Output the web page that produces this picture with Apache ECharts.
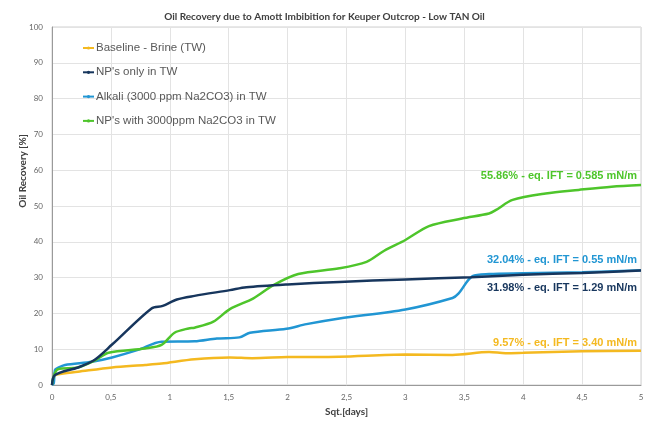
<!DOCTYPE html>
<html>
<head>
<meta charset="utf-8">
<script src="https://cdn.jsdelivr.net/npm/echarts@6/dist/echarts.min.js"></script>
<style>
  html, body { margin: 0; padding: 0; background: #ffffff; }
  #chart { width: 649px; height: 423px; }
</style>
</head>
<body>
<div id="chart"></div>
<script>
// Oil recovery (%) versus square root of time (days) for four imbibition fluids
const seriesNames = [
  "Baseline - Brine (TW)",
  "NP's only in TW",
  "Alkali (3000 ppm Na2CO3) in TW",
  "NP's with 3000ppm Na2CO3 in TW"
];

const baselineX = [0, 0.02, 0.05, 0.22, 0.51, 0.79, 0.93, 1.21, 1.51, 1.7, 2.0, 2.44, 3.0, 3.4, 3.71, 3.85, 4.0, 4.5, 5.0];
const baselineY = [0, 2.5, 3.0, 3.7, 4.9, 5.6, 6.0, 7.2, 7.7, 7.5, 7.8, 7.9, 8.5, 8.4, 9.2, 8.9, 9.0, 9.4, 9.57];

const npX = [0, 0.025, 0.22, 0.36, 0.51, 0.845, 0.94, 1.06, 1.21, 1.51, 1.65, 2.0, 2.44, 3.0, 3.56, 4.0, 4.5, 5.0];
const npY = [0, 2.8, 4.9, 7.0, 11.3, 21.4, 22.1, 23.9, 24.9, 26.5, 27.3, 28.1, 28.8, 29.5, 30.1, 30.8, 31.3, 31.98];

const alkaliX = [0, 0.015, 0.025, 0.05, 0.11, 0.34, 0.51, 0.73, 0.93, 1.21, 1.4, 1.59, 1.68, 1.99, 2.16, 2.44, 3.0, 3.4, 3.45, 3.57, 3.71, 4.0, 4.5, 5.0];
const alkaliY = [0, 0.5, 4.2, 4.8, 5.6, 6.5, 7.7, 9.8, 12.1, 12.2, 13.0, 13.3, 14.6, 15.7, 17.0, 18.6, 21.1, 24.3, 25.5, 30.4, 31.0, 31.2, 31.5, 32.04];

const npAlkaliX = [0, 0.01, 0.05, 0.22, 0.36, 0.48, 0.79, 0.93, 1.04, 1.16, 1.21, 1.37, 1.51, 1.71, 1.88, 2.09, 2.44, 2.67, 2.82, 3.0, 3.2, 3.48, 3.71, 3.77, 3.91, 4.19, 4.47, 4.75, 5.0];
const npAlkaliY = [0, 2.0, 4.4, 4.9, 6.8, 9.0, 10.2, 11.2, 14.6, 15.8, 16.0, 17.7, 21.2, 24.2, 27.9, 31.0, 32.6, 34.4, 37.5, 40.5, 44.4, 46.5, 47.9, 48.9, 51.7, 53.5, 54.5, 55.4, 55.86];

// Equilibrium IFT reported at the end of each curve (mN/m)
const eqIFT = ["3.40", "1.29", "0.55", "0.585"];

const colors = ["#F4B920", "#17365D", "#2196D3", "#4EC52B"];

const xTicks = { min: 0, max: 5, interval: 0.5 };
const yTicks = { min: 0, max: 100, interval: 10 };

// end-label shift per series, relative to the last point of its line
const endLabelOffset = [
  [-4, -8],
  [-4, 17],
  [-4, -10],
  [-4, -9]
];

const seriesXY = [[baselineX, baselineY], [npX, npY], [alkaliX, alkaliY], [npAlkaliX, npAlkaliY]];

const chart = echarts.init(document.getElementById("chart"), null, { renderer: "canvas" });

chart.setOption({
  animation: false,
  backgroundColor: "#ffffff",
  color: colors,
  title: {
    text: "Oil Recovery due to Amott Imbibition for Keuper Outcrop - Low TAN Oil",
    left: "center",
    top: 7,
    textStyle: {
      fontFamily: "Lato",
      fontWeight: "bold",
      fontSize: 10,
      color: "#404040"
    }
  },
  legend: {
    orient: "vertical",
    left: 82,
    top: 41,
    padding: 0,
    itemGap: 10.3,
    itemWidth: 11,
    itemHeight: 4,
    textStyle: { fontFamily: "Liberation Sans", fontSize: 11.5, color: "#595959", lineHeight: 14, padding: [0, 0, 0, -3] },
    data: seriesNames
  },
  grid: { left: 52, right: 8, top: 27, bottom: 38, show: true, borderColor: "#d0d0d0", borderWidth: 1 },
  xAxis: {
    type: "value",
    min: xTicks.min,
    max: xTicks.max,
    interval: xTicks.interval,
    name: "Sqt.[days]",
    nameLocation: "middle",
    nameGap: 22,
    nameMoveOverlap: false,
    nameTextStyle: { fontFamily: "Lato", fontWeight: "bold", fontSize: 10, color: "#404040" },
    axisLine: { lineStyle: { color: "#9a9a9a", width: 1 } },
    axisTick: { show: false },
    axisLabel: {
      fontFamily: "Lato",
      fontSize: 8,
      color: "#666666",
      margin: 8,
      formatter: function (v) { return String(v).replace(".", ","); }
    },
    splitLine: { show: true, lineStyle: { color: "#e3e3e3", width: 1 } }
  },
  yAxis: {
    type: "value",
    min: yTicks.min,
    max: yTicks.max,
    interval: yTicks.interval,
    name: "Oil Recovery [%]",
    nameLocation: "middle",
    nameGap: 24,
    nameMoveOverlap: false,
    nameTextStyle: { fontFamily: "Lato", fontWeight: "bold", fontSize: 10, color: "#404040", padding: [0, 0, 0, 70] },
    axisLine: { show: true, lineStyle: { color: "#9a9a9a", width: 1 } },
    axisTick: { show: false },
    axisLabel: { fontFamily: "Lato", fontSize: 8, color: "#666666", margin: 9 },
    splitLine: { show: true, lineStyle: { color: "#e3e3e3", width: 1 } }
  },
  series: seriesNames.map(function (name, idx) {
    const xs = seriesXY[idx][0];
    const ys = seriesXY[idx][1];
    return {
      name: name,
      type: "line",
      smooth: 0.3,
      symbol: "circle",
      symbolSize: 3,
      showSymbol: false,
      lineStyle: { width: 2.5, color: colors[idx] },
      itemStyle: { color: colors[idx] },
      z: idx === 1 ? 3 : 2,
      endLabel: {
        show: true,
        distance: 0,
        offset: endLabelOffset[idx],
        align: "right",
        verticalAlign: "middle",
        color: colors[idx],
        fontFamily: "Liberation Sans",
        fontWeight: "bold",
        fontSize: 11,
        formatter: function (p) {
          return p.value[1].toFixed(2) + "% - eq. IFT = " + eqIFT[idx] + " mN/m";
        }
      },
      data: xs.map(function (x, i) { return [x, ys[i]]; })
    };
  })
});
</script>
</body>
</html>
